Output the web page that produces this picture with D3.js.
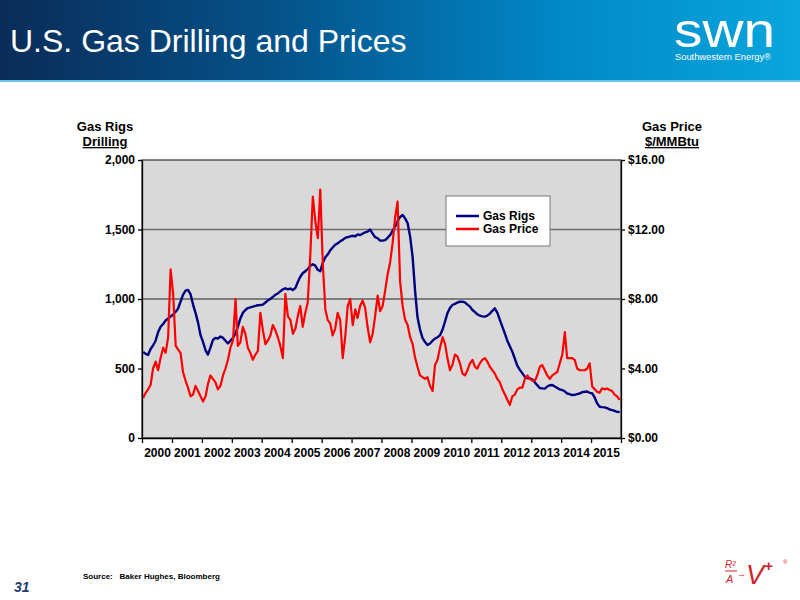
<!DOCTYPE html>
<html>
<head>
<meta charset="utf-8">
<script src="https://cdn.jsdelivr.net/npm/d3@7"></script>
<style>
  body { margin: 0; background: #fff; }
  svg { display: block; font-family: "Liberation Sans", Arial, sans-serif; }
</style>
</head>
<body>
<div id="chart"></div>
<script>
// monthly values, Jan 2000 .. Dec 2015
var startYear = 2000;
var yearLabels = ["2000","2001","2002","2003","2004","2005","2006","2007",
                  "2008","2009","2010","2011","2012","2013","2014","2015"];

// Baker Hughes gas rigs (count)
var rigs = [
  620,605,597,640,665,700,760,800,820,845,860,873,
  890,909,930,980,1030,1060,1065,1035,960,900,830,740,
  690,630,600,650,705,720,715,730,720,700,680,700,
  720,753,800,860,900,921,935,940,945,950,955,957,
  960,975,990,1000,1015,1030,1040,1055,1070,1077,1070,1075,
  1065,1080,1120,1160,1185,1200,1215,1240,1250,1240,1210,1200,
  1260,1300,1320,1350,1370,1390,1400,1415,1425,1440,1445,1450,
  1455,1450,1465,1460,1470,1480,1485,1500,1470,1445,1437,1420,
  1420,1424,1440,1460,1490,1520,1560,1590,1604,1580,1545,1450,
  1300,1050,870,780,720,690,669,680,700,715,725,740,
  780,840,897,935,957,965,975,980,981,975,960,945,
  921,905,890,880,875,873,880,895,915,933,900,850,
  800,750,700,660,621,570,520,490,465,440,430,429,
  420,400,380,360,357,355,370,380,381,370,360,350,
  345,335,320,315,309,310,315,320,330,333,335,325,
  321,290,250,225,222,220,215,205,201,195,188,187
];

// gas price ($/MMBtu)
var price = [
  2.3,2.6,2.8,3.05,4.0,4.4,3.9,4.6,5.2,4.9,5.8,9.7,
  8.3,5.3,5.1,4.9,3.8,3.3,2.9,2.4,2.5,3.0,2.7,2.4,
  2.1,2.4,3.1,3.6,3.4,3.2,2.8,3.0,3.6,4.0,4.5,5.2,
  5.6,8.0,5.3,5.5,6.4,6.0,5.2,4.9,4.5,4.8,5.0,7.2,
  6.2,5.4,5.6,5.9,6.5,6.2,5.8,5.3,4.6,8.3,7.0,6.8,
  6.0,6.3,7.0,7.6,6.4,7.2,7.8,10.5,13.9,12.5,11.5,14.3,
  10.0,7.4,6.8,6.6,5.9,6.3,7.2,6.8,4.6,5.8,7.6,8.0,
  6.5,7.4,6.9,7.6,7.9,7.5,6.4,5.5,6.0,7.0,8.2,7.3,
  7.6,8.5,9.4,10.1,11.2,12.7,13.6,9.0,7.6,6.8,6.5,5.8,
  5.4,4.6,4.1,3.6,3.5,3.4,3.5,3.0,2.7,4.2,4.5,5.2,
  5.8,5.4,4.6,3.9,4.2,4.8,4.7,4.3,3.7,3.6,3.9,4.3,
  4.5,4.1,4.0,4.3,4.5,4.6,4.4,4.1,3.9,3.7,3.4,3.2,
  2.8,2.5,2.2,1.9,2.4,2.5,2.8,2.9,2.9,3.4,3.6,3.4,
  3.3,3.3,3.6,4.1,4.2,3.9,3.6,3.4,3.6,3.7,3.8,4.3,
  4.8,6.1,4.6,4.6,4.6,4.5,4.0,3.9,3.9,3.9,4.0,4.3,
  2.95,2.8,2.66,2.6,2.86,2.8,2.85,2.76,2.7,2.5,2.4,2.2
];

var rigTicks = [0, 500, 1000, 1500, 2000];
var priceTicks = [0, 4, 8, 12, 16];
var gridValues = [1000, 1500];
var seriesNames = ["Gas Rigs", "Gas Price"];
var seriesColors = ["#000080", "#ff0000"];

var w = 800, h = 600;
var plotL = 142, plotR = 621, plotT = 160, plotB = 438;

var svg = d3.select("#chart").append("svg")
    .attr("width", w)
    .attr("height", h);

// header banner
var defs = svg.append("defs");
var grad = defs.append("linearGradient").attr("id", "hdr")
    .attr("x1", "0%").attr("x2", "100%").attr("y1", "0%").attr("y2", "0%");
grad.append("stop").attr("offset", "0%").attr("stop-color", "#0a2c58");
grad.append("stop").attr("offset", "35%").attr("stop-color", "#05538a");
grad.append("stop").attr("offset", "70%").attr("stop-color", "#0188c7");
grad.append("stop").attr("offset", "100%").attr("stop-color", "#0aa6de");

svg.append("rect").attr("x", 0).attr("y", 0).attr("width", w).attr("height", 81)
    .attr("fill", "url(#hdr)");
svg.append("rect").attr("x", 0).attr("y", 80).attr("width", w).attr("height", 2)
    .attr("fill", "#6cc6ec");

svg.append("text").attr("x", 10).attr("y", 52)
    .attr("fill", "#fff").attr("font-size", 32)
    .text("U.S. Gas Drilling and Prices");

svg.append("text").attr("x", 674).attr("y", 47)
    .attr("fill", "#fff").attr("font-size", 48)
    .attr("textLength", 101).attr("lengthAdjust", "spacingAndGlyphs")
    .text("swn");
svg.append("text").attr("x", 675).attr("y", 59.5)
    .attr("fill", "#fff").attr("font-size", 8.5)
    .attr("textLength", 96).attr("lengthAdjust", "spacingAndGlyphs")
    .text("Southwestern Energy\u00ae");

// scales
var points = rigs.map(function(d, i) {
    return {
        date: new Date(startYear + Math.floor(i / 12), i % 12, 15),
        rigs: d,
        price: price[i]
    };
});

var xScale = d3.scaleTime()
    .domain([new Date(startYear, 0, 1), new Date(startYear + yearLabels.length, 0, 1)])
    .range([plotL, plotR]);
var yRigs = d3.scaleLinear().domain([0, 2000]).range([plotB, plotT]);
var yPrice = d3.scaleLinear().domain([0, 16]).range([plotB, plotT]);

// plot area
svg.append("rect")
    .attr("x", plotL).attr("y", plotT)
    .attr("width", plotR - plotL).attr("height", plotB - plotT)
    .attr("fill", "#d9d9d9")
    .attr("stroke", "#333").attr("stroke-width", 1.2);

svg.append("g").selectAll("line")
    .data(gridValues)
    .enter().append("line")
    .attr("x1", plotL).attr("x2", plotR)
    .attr("y1", function(d){ return yRigs(d); })
    .attr("y2", function(d){ return yRigs(d); })
    .attr("stroke", function(d){ return d == 1500 ? "#6e6e6e" : "#222"; })
    .attr("stroke-width", function(d){ return d == 1500 ? 1.6 : 1.1; });

// lines
var rigLine = d3.line()
    .x(function(d){ return xScale(d.date); })
    .y(function(d){ return yRigs(d.rigs); });
var priceLine = d3.line()
    .x(function(d){ return xScale(d.date); })
    .y(function(d){ return yPrice(d.price); });

svg.append("path").datum(points)
    .attr("d", rigLine)
    .attr("fill", "none")
    .attr("stroke", seriesColors[0])
    .attr("stroke-width", 2.4)
    .attr("stroke-linejoin", "round");

svg.append("path").datum(points)
    .attr("d", priceLine)
    .attr("fill", "none")
    .attr("stroke", seriesColors[1])
    .attr("stroke-width", 2.2)
    .attr("stroke-linejoin", "round");

// axes
svg.append("g")
    .attr("class", "axis")
    .attr("transform", "translate(" + plotL + ",0)")
    .call(d3.axisLeft(yRigs).tickValues(rigTicks).tickSize(4).tickSizeOuter(0)
        .tickFormat(d3.format(",")));

svg.append("g")
    .attr("class", "axis")
    .attr("transform", "translate(" + plotR + ",0)")
    .call(d3.axisRight(yPrice).tickValues(priceTicks).tickSize(4).tickSizeOuter(0)
        .tickFormat(function(d){ return "$" + d.toFixed(2); }));

var yearBounds = d3.range(0, yearLabels.length + 1).map(function(i){
    return new Date(startYear + i, 0, 1);
});
svg.append("g")
    .attr("class", "axis")
    .attr("transform", "translate(0," + plotB + ")")
    .call(d3.axisBottom(xScale).tickValues(yearBounds).tickSize(5).tickSizeOuter(0)
        .tickFormat(""));

var yearMids = yearLabels.map(function(d){ return new Date(+d, 6, 2); });
svg.append("g")
    .attr("class", "axis labels")
    .attr("transform", "translate(0," + plotB + ")")
    .call(d3.axisBottom(xScale).tickValues(yearMids).tickSize(0).tickPadding(10)
        .tickFormat(function(d){ return d.getFullYear(); }));

svg.selectAll(".axis text")
    .attr("font-family", "Liberation Sans, Arial, sans-serif")
    .attr("font-size", 12)
    .attr("font-weight", "bold")
    .attr("fill", "#000");
svg.selectAll(".axis path, .axis line").attr("stroke", "#000").attr("stroke-width", 1.3);
svg.selectAll(".labels path").remove();

// axis titles
function title(x, y, txt, underline) {
    var t = svg.append("text").attr("x", x).attr("y", y)
        .attr("text-anchor", "middle")
        .attr("font-size", 13).attr("font-weight", "bold")
        .text(txt);
    if (underline) t.attr("text-decoration", "underline");
}
title(105, 131, "Gas Rigs", false);
title(105, 146, "Drilling", true);
title(672, 131, "Gas Price", false);
title(672, 146, "$/MMBtu", true);

// legend
var lg = svg.append("g").attr("transform", "translate(446,196)");
lg.append("rect").attr("width", 104).attr("height", 50)
    .attr("fill", "#fff").attr("stroke", "#777").attr("stroke-width", 1);
seriesNames.forEach(function(name, i) {
    var yy = 20 + i * 13;
    lg.append("line").attr("x1", 10).attr("x2", 33)
        .attr("y1", yy).attr("y2", yy)
        .attr("stroke", seriesColors[i]).attr("stroke-width", 2.5);
    lg.append("text").attr("x", 37).attr("y", yy + 4)
        .attr("font-size", 12).attr("font-weight", "bold")
        .text(name);
});

// footer
svg.append("text").attr("x", 83).attr("y", 579)
    .attr("font-size", 8).attr("font-weight", "bold")
    .attr("xml:space", "preserve")
    .text("Source:   Baker Hughes, Bloomberg");
svg.append("text").attr("x", 14).attr("y", 592)
    .attr("font-size", 14).attr("font-weight", "bold").attr("font-style", "italic")
    .attr("fill", "#1f3b6e")
    .text("31");

var logo = svg.append("g").attr("fill", "#d2232a").attr("font-style", "italic");
logo.append("text").attr("x", 725).attr("y", 568).attr("font-size", 10).text("R\u00b2");
logo.append("line").attr("x1", 725).attr("x2", 737).attr("y1", 571).attr("y2", 571)
    .attr("stroke", "#d2232a").attr("stroke-width", 1);
logo.append("text").attr("x", 726).attr("y", 583).attr("font-size", 11).text("A");
logo.append("text").attr("x", 737).attr("y", 577).attr("font-size", 9).text("\u2192");
logo.append("text").attr("x", 746).attr("y", 584).attr("font-size", 27).text("V");
logo.append("text").attr("x", 764).attr("y", 571).attr("font-size", 15).attr("font-weight", "bold").text("+");
logo.append("text").attr("x", 783).attr("y", 564).attr("font-size", 6).text("\u00ae");
</script>
</body>
</html>
